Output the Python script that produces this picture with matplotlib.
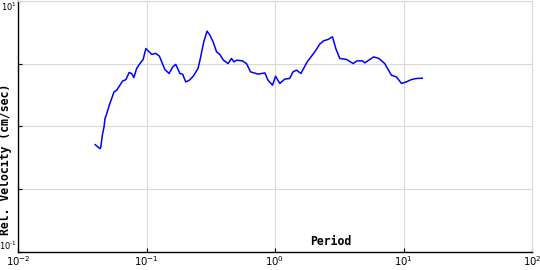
import matplotlib
matplotlib.use("Agg")
import matplotlib.pyplot as plt
import numpy as np

plt.rcParams['font.family'] = ['DejaVu Sans Mono']
plt.rcParams['mathtext.fontset'] = 'custom'
plt.rcParams['mathtext.rm'] = 'DejaVu Sans'
plt.rcParams['mathtext.it'] = 'DejaVu Sans'

period = [0.0399, 0.0435, 0.0441, 0.0453, 0.0467, 0.0475, 0.0490, 0.0513, 0.0536, 0.0558,
          0.0586, 0.0621, 0.0652, 0.0692, 0.0733, 0.0766, 0.0798, 0.0838, 0.0889, 0.0942,
          0.0989, 0.103, 0.110, 0.118, 0.126, 0.133, 0.139, 0.150, 0.160, 0.169,
          0.182, 0.191, 0.202, 0.215, 0.231, 0.252, 0.264, 0.279, 0.296, 0.311,
          0.330, 0.351, 0.372, 0.395, 0.420, 0.431, 0.459, 0.479, 0.502, 0.558,
          0.600, 0.645, 0.740, 0.834, 0.883, 0.957, 1.01, 1.09, 1.19, 1.30,
          1.38, 1.47, 1.59, 1.78, 2.04, 2.23, 2.39, 2.59, 2.80, 2.97,
          3.19, 3.60, 4.05, 4.35, 4.79, 4.99, 5.86, 6.44, 7.14, 8.05,
          8.81, 9.64, 10.5, 11.5, 12.6, 14.0]
velocity = [0.714, 0.663, 0.683, 0.847, 0.987, 1.15, 1.26, 1.47, 1.67, 1.88,
            1.94, 2.13, 2.30, 2.36, 2.69, 2.64, 2.45, 2.90, 3.17, 3.42,
            4.18, 4.00, 3.75, 3.82, 3.63, 3.17, 2.84, 2.64, 2.98, 3.12,
            2.64, 2.61, 2.26, 2.33, 2.51, 2.90, 3.58, 4.72, 5.75, 5.35,
            4.72, 3.93, 3.75, 3.39, 3.23, 3.17, 3.48, 3.27, 3.37, 3.33,
            3.17, 2.72, 2.61, 2.67, 2.33, 2.13, 2.51, 2.20, 2.38, 2.41,
            2.72, 2.81, 2.64, 3.27, 3.93, 4.53, 4.81, 4.94, 5.18, 4.19,
            3.48, 3.42, 3.17, 3.33, 3.33, 3.21, 3.58, 3.48, 3.17, 2.56,
            2.48, 2.20, 2.26, 2.36, 2.41, 2.42]

xticks = [0.01, 0.1, 1, 10, 100]
xticklabels = [r'$10^{-2}$', r'$10^{-1}$', r'$10^{0}$', r'$10^{1}$', r'$10^{2}$']
yticks = [0.1, 10 ** -0.5, 1, 10 ** 0.5, 10]
yticklabels = [r'$10^{\text{-1}}$', '', '', '', r'$10^{1}$']

fig = plt.figure(figsize=(5.4, 2.7), dpi=100)
ax = fig.add_axes([18 / 540, 18.3 / 270, 514 / 540, 250.7 / 270])
ax.set_xscale('log')
ax.set_yscale('log')
ax.set_xlim(0.01, 100)
ax.set_ylim(0.1, 10)

ax.plot(period, velocity, color='#0000ff', lw=1.1, zorder=3)

ax.set_xticks(xticks)
ax.set_xticklabels(xticklabels)
ax.set_yticks(yticks)
ax.set_yticklabels(yticklabels)
ax.minorticks_off()
ax.tick_params(axis='both', direction='in', length=3, width=0.8, colors='black')
ax.tick_params(axis='x', pad=2, labelsize=7.3)
ax.tick_params(axis='y', pad=0.5, labelsize=6.0)
ylabs = ax.get_yticklabels()
ylabs[0].set_va('bottom')
ylabs[-1].set_va('top')

ax.grid(True, color='#d8d8d8', lw=0.8)
ax.set_axisbelow(True)
for s in ['top', 'right']:
    ax.spines[s].set_color('#d8d8d8')
    ax.spines[s].set_linewidth(0.8)
for s in ['left', 'bottom']:
    ax.spines[s].set_color('black')
    ax.spines[s].set_linewidth(1.0)

fig.text(330.8 / 540, (270 - 241.7) / 270, 'Period', ha='center', va='center',
         fontsize=8.3, fontweight='bold')
fig.text(5.8 / 540, (270 - 159) / 270, 'Rel. Velocity (cm/sec)', ha='center', va='center',
         rotation=90, fontsize=8.3, fontweight='bold')

fig.savefig('out.png', dpi=100)
